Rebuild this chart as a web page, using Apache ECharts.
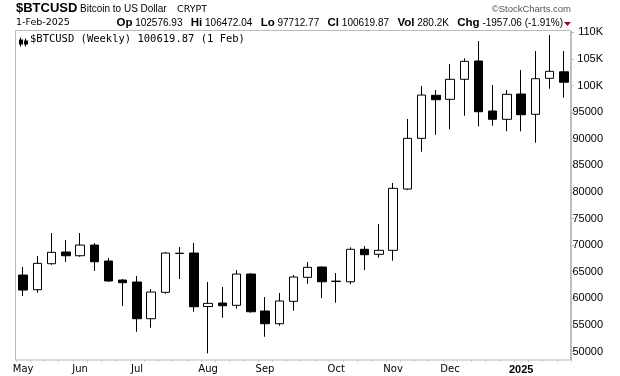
<!DOCTYPE html>
<html>
<head>
<meta charset="utf-8">
<style>
  html, body { margin: 0; padding: 0; background: #fff; }
  #chart { width: 620px; height: 376px; }
</style>
<script src="https://cdn.jsdelivr.net/npm/echarts@6/dist/echarts.min.js"></script>
</head>
<body>
<div id="chart"></div>
<script>
// weekly bars, by week start (Monday)
const weeks = [
  '2024-05-06', '2024-05-13', '2024-05-20', '2024-05-27', '2024-06-03', '2024-06-10', '2024-06-17', '2024-06-24',
  '2024-07-01', '2024-07-08', '2024-07-15', '2024-07-22', '2024-07-29', '2024-08-05', '2024-08-12', '2024-08-19',
  '2024-08-26', '2024-09-02', '2024-09-09', '2024-09-16', '2024-09-23', '2024-09-30', '2024-10-07', '2024-10-14',
  '2024-10-21', '2024-10-28', '2024-11-04', '2024-11-11', '2024-11-18', '2024-11-25', '2024-12-02', '2024-12-09',
  '2024-12-16', '2024-12-23', '2024-12-30', '2025-01-06', '2025-01-13', '2025-01-20', '2025-01-27'
]
const opens = [
  64370, 61610, 66500, 68700, 68000, 70010, 67010, 63430, 63060, 56160, 61120, 68420, 68510, 58450, 59110, 58680,
  64560, 57610, 55220, 59430, 63940, 65880, 63150, 63110, 69210, 68270, 69020, 80540, 90070, 98160, 97410, 101170,
  104610, 95210, 93650, 98400, 94590, 101350, 102576.93
]
const closes = [
  61550, 66570, 68640, 68000, 70010, 66870, 63250, 62930, 56160, 61180, 68510, 68480, 58410, 59050, 58600, 64560,
  57470, 55220, 59490, 64000, 65820, 63110, 63230, 69210, 68190, 69020, 80670, 90070, 98210, 97330, 101170, 104550,
  95070, 93650, 98350, 94510, 101280, 102670, 100619.87
]
const lows = [
  60430, 61050, 66310, 66820, 67810, 65130, 63100, 58550, 53710, 54470, 60860, 63620, 57470, 49650, 56350, 58040,
  57300, 52770, 54840, 57660, 62740, 60050, 59170, 62630, 65310, 67630, 67060, 80350, 87550, 90750, 91770, 94320,
  92330, 92440, 91390, 91390, 89250, 99400, 97712.77
]
const highs = [
  65880, 67950, 72270, 70950, 72270, 70390, 67570, 63620, 64190, 61740, 68700, 69640, 70390, 63060, 62120, 65310,
  64750, 60240, 60990, 64380, 66820, 66000, 64750, 69580, 69830, 73960, 81670, 93700, 99910, 99150, 104040, 105110,
  108370, 100090, 99150, 102910, 106490, 109490, 106472.04
]
const yTicks = [50000, 55000, 60000, 65000, 70000, 75000, 80000, 85000, 90000, 95000, 100000, 105000, 110000]
const monthNames = ['Jan', 'Feb', 'Mar', 'Apr', 'May', 'Jun', 'Jul', 'Aug', 'Sep', 'Oct', 'Nov', 'Dec']

const candles = weeks.map((w, i) => [opens[i], closes[i], lows[i], highs[i]])

// label the first week that starts in a new month
function isMonthStart(i) {
  if (i === 0) return true
  return weeks[i].slice(5, 7) !== weeks[i - 1].slice(5, 7)
}

const chart = echarts.init(document.getElementById('chart'), null, { renderer: 'canvas' })

chart.setOption({
  animation: false,
  backgroundColor: '#fff',
  grid: { left: 16, right: 49, top: 31, bottom: 16 },
  xAxis: {
    type: 'category',
    data: weeks,
    boundaryGap: true,
    axisLine: { show: false },
    axisTick: { show: true, interval: 0, length: 2, lineStyle: { color: '#c8c8c8' } },
    axisLabel: {
      interval: (i) => isMonthStart(i),
      margin: 4,
      fontSize: 10,
      fontFamily: 'DejaVu Sans',
      color: '#000',
      formatter: (v) => {
        const m = Number(v.slice(5, 7)) - 1
        return m === 0 ? '{y|' + v.slice(0, 4) + '}' : monthNames[m]
      },
      rich: {
        y: { fontWeight: 'bold', fontSize: 11, fontFamily: 'Liberation Sans', color: '#000' }
      }
    },
    splitLine: { show: false }
  },
  yAxis: {
    type: 'value',
    position: 'right',
    min: 48400,
    max: 110250,
    axisLine: { show: true, lineStyle: { color: '#bbb', type: [3, 1] } },
    axisTick: { show: true, customValues: yTicks, length: 3, lineStyle: { color: '#bbb' } },
    axisLabel: {
      customValues: yTicks,
      align: 'right',
      margin: 32,
      fontSize: 11,
      fontFamily: 'Liberation Sans',
      color: '#000',
      formatter: (v) => (v >= 100000 ? v / 1000 + 'K' : String(v))
    },
    splitLine: { show: false }
  },
  series: [
    {
      type: 'candlestick',
      data: candles,
      barWidth: 9,
      itemStyle: {
        color: '#fff',
        color0: '#000',
        borderColor: '#000',
        borderColor0: '#000',
        borderWidth: 1
      }
    }
  ],
  graphic: [
    // plot frame
    {
      type: 'rect', z: -1, silent: true,
      shape: { x: 15.5, y: 30.5, width: 555, height: 329.5 },
      style: { fill: 'none', stroke: '#bbb', lineWidth: 1 }
    },
    // header line 1
    {
      type: 'text', left: 16, top: 2,
      style: { text: '$BTCUSD', font: 'bold 13px "Liberation Sans"', fill: '#000' }
    },
    {
      type: 'text', left: 80, top: 4,
      style: { text: 'Bitcoin to US Dollar', font: '10px "Liberation Sans"', fill: '#000' }
    },
    {
      type: 'text', left: 177, top: 5,
      style: { text: 'CRYPT', font: '9.5px "DejaVu Sans"', fill: '#000' }
    },
    {
      type: 'text', right: 49, top: 4,
      style: { text: '\u00A9StockCharts.com', font: '9.5px "Liberation Sans"', fill: '#555' }
    },
    // header line 2
    {
      type: 'text', left: 16, top: 18,
      style: { text: '1-Feb-2025', font: '9.5px "DejaVu Sans"', fill: '#000' }
    },
    {
      type: 'text', right: 57, top: 17,
      style: {
        text: '{b|Op} 102576.93   {b|Hi} 106472.04   {b|Lo} 97712.77   {b|Cl} 100619.87   {b|Vol} 280.2K   {b|Chg} -1957.06 (-1.91%)',
        font: '10px "Liberation Sans"',
        fill: '#000',
        rich: { b: { font: 'bold 11.5px "Liberation Sans"', fill: '#000' } }
      }
    },
    {
      type: 'polygon', silent: true,
      shape: { points: [[564, 22], [571, 22], [567.5, 26]] },
      style: { fill: '#a0002a' }
    },
    // legend inside plot
    {
      type: 'group', left: 18, top: 35,
      children: [
        { type: 'line', shape: { x1: 1.5, y1: 0, x2: 1.5, y2: 9 }, style: { stroke: '#000', lineWidth: 1 } },
        { type: 'rect', shape: { x: 0, y: 2, width: 4, height: 5 }, style: { fill: '#000' } },
        { type: 'line', shape: { x1: 6.5, y1: 1, x2: 6.5, y2: 9 }, style: { stroke: '#000', lineWidth: 1 } },
        { type: 'rect', shape: { x: 5, y: 3, width: 4, height: 4 }, style: { fill: '#000' } }
      ]
    },
    {
      type: 'text', left: 30, top: 34,
      style: { text: '$BTCUSD (Weekly) 100619.87 (1 Feb)', font: '10.5px "DejaVu Sans Mono"', fill: '#000' }
    }
  ]
})
</script>
</body>
</html>
